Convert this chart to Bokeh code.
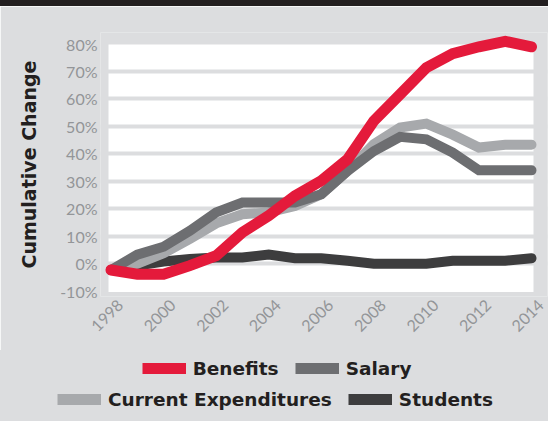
import math
from bokeh.plotting import figure
from bokeh.layouts import column
from bokeh.models import Range1d, FixedTicker, LinearAxis, Legend, LegendItem, Div
from bokeh.embed import file_html
from bokeh.resources import INLINE

# ---------------- data ----------------
years = list(range(1998, 2015))
benefits = [-2.3, -3.8, -3.8, -0.7, 2.9, 11.4, 17.5, 24.7, 30.2, 38.0, 52.0, 61.7, 71.4, 76.5, 79.0, 81.0, 79.0]
salary = [-2.3, 3.3, 6.2, 12.0, 18.7, 22.3, 22.3, 22.3, 25.3, 33.8, 41.0, 46.2, 45.3, 40.5, 34.0, 34.0, 34.0]
current_expenditures = [-2.3, 0.0, 3.8, 9.0, 14.7, 18.0, 18.7, 21.0, 25.3, 33.8, 43.5, 49.6, 51.0, 47.0, 42.3, 43.3, 43.3]
students = [-2.3, -0.7, 0.8, 1.7, 2.3, 2.3, 3.3, 2.0, 2.0, 1.1, 0.0, 0.0, 0.0, 1.1, 1.1, 1.1, 2.0]

series_names = ["Benefits", "Salary", "Current Expenditures", "Students"]
x_ticks = [1998, 2000, 2002, 2004, 2006, 2008, 2010, 2012, 2014]
x_tick_labels = ["1998", "2000", "2002", "2004", "2006", "2008", "2010", "2012", "2014"]
y_ticks = [-10, 0, 10, 20, 30, 40, 50, 60, 70, 80]
y_tick_labels = ["-10%", "0%", "10%", "20%", "30%", "40%", "50%", "60%", "70%", "80%"]
y_label = "Cumulative Change"

# ---------------- style ----------------
BG = "#dcdddf"
RED = "#e41a3b"
SAL = "#6d6e71"
CUR = "#a7a9ac"
STU = "#3d3d3e"
TICK_COL = "#939598"
TXT = "#231f20"
W = 548
colors = {"Benefits": RED, "Salary": SAL, "Current Expenditures": CUR, "Students": STU}
values = {"Benefits": benefits, "Salary": salary,
          "Current Expenditures": current_expenditures, "Students": students}

band = Div(text="", width=W, height=6, margin=(0, 0, 0, 0),
           styles={"background-color": "#231f20"})

p = figure(width=W, height=344, output_backend="svg", toolbar_location=None,
           x_range=Range1d(1997.6, 2014.609), y_range=Range1d(-11.94, 84.2),
           x_axis_location=None, frame_align=False,
           min_border_left=100, min_border_right=1, min_border_top=26, min_border_bottom=54)
p.background_fill_color = BG
p.border_fill_color = BG
p.outline_line_color = None
p.xgrid.visible = False

# white plotting panel
p.quad(left=[1997.905], right=[2014.076], bottom=[-10.3], top=[79.8],
       fill_color="white", line_color=None, level="image")

p.ygrid.ticker = FixedTicker(ticks=y_ticks[1:-1])
p.ygrid.grid_line_color = BG
p.ygrid.grid_line_width = 4

ya = p.yaxis[0]
ya.ticker = FixedTicker(ticks=y_ticks)
ya.major_label_overrides = {t: l for t, l in zip(y_ticks, y_tick_labels)}
ya.axis_line_color = None
ya.major_tick_line_color = None
ya.minor_tick_line_color = None
ya.major_tick_out = 0
ya.major_tick_in = 0
ya.major_label_standoff = 3
ya.major_label_text_font = "Lato"
ya.major_label_text_font_size = "16px"
ya.major_label_text_color = TICK_COL
ya.axis_label = y_label
ya.axis_label_text_font = "DejaVu Sans"
ya.axis_label_text_font_style = "bold"
ya.axis_label_text_font_size = "19px"
ya.axis_label_text_color = TXT
ya.axis_label_standoff = 17

# x axis (labels centred on the ticks, as in the reference)
shift = 0.36
p.extra_x_ranges = {"lab": Range1d(1997.6 - shift, 2014.609 - shift)}
xa = LinearAxis(x_range_name="lab", ticker=FixedTicker(ticks=x_ticks))
xa.major_label_overrides = {t: l for t, l in zip(x_ticks, x_tick_labels)}
xa.major_label_orientation = math.pi / 4
xa.axis_line_color = None
xa.major_tick_line_color = None
xa.minor_tick_line_color = None
xa.major_tick_out = 0
xa.major_tick_in = 0
xa.major_label_standoff = 6
xa.major_label_text_font = "Lato"
xa.major_label_text_font_size = "16px"
xa.major_label_text_color = TICK_COL
p.add_layout(xa, "below")

# lines (drawing order: students at the bottom, benefits on top)
for name, w in [("Students", 10), ("Current Expenditures", 10), ("Salary", 10), ("Benefits", 11)]:
    p.line(years, values[name], line_color=colors[name], line_width=w,
           line_cap="round", line_join="miter")

# ---------------- legend strip ----------------
q = figure(width=W, height=71, output_backend="svg", toolbar_location=None,
           x_range=Range1d(0, 1), y_range=Range1d(0, 1),
           x_axis_location=None, y_axis_location=None, frame_align=False,
           min_border=0, min_border_left=0, min_border_right=0, min_border_top=0, min_border_bottom=0,
           styles={"background-color": BG})
q.background_fill_color = None
q.border_fill_color = None
q.outline_line_color = None
for g in q.grid:
    g.visible = False

# the same series in the legend strip (outside its visible range): only their swatches show
sw = {}
for name in series_names:
    sw[name] = q.line(years, values[name], line_color=colors[name], line_width=11, line_cap="butt")

def make_legend(names, loc):
    lg = Legend(items=[LegendItem(label=n, renderers=[sw[n]]) for n in names],
                orientation="horizontal", location=loc,
                glyph_width=44, glyph_height=22, label_height=22, label_standoff=7,
                spacing=16, padding=0, margin=0,
                background_fill_alpha=0, border_line_color=None,
                label_text_font="DejaVu Sans", label_text_font_style="bold",
                label_text_font_size="18.5px", label_text_color=TXT)
    q.add_layout(lg, "center")
    return lg

make_legend(["Benefits", "Salary"], (141.7, 42))
make_legend(["Current Expenditures", "Students"], (57, 11))

layout = column(band, p, q, spacing=0)
open("out.html", "w").write(file_html(layout, INLINE))
